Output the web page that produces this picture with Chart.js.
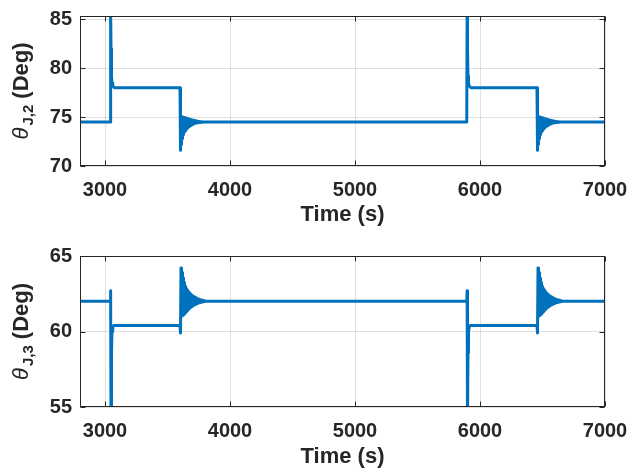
<!DOCTYPE html>
<html>
<head>
<meta charset="utf-8">
<script src="https://cdn.jsdelivr.net/npm/chart.js@4.4.1/dist/chart.umd.min.js"></script>
<style>
  html, body { margin: 0; padding: 0; background: #fff; overflow: hidden; }
  .panel { position: absolute; left: 0; width: 630px; height: 237px; }
</style>
</head>
<body>
<div class="panel" style="top:0"><canvas id="chartJ2"></canvas></div>
<div class="panel" style="top:237px"><canvas id="chartJ3"></canvas></div>
<script>
// ==================== DATA ====================

const timeStart = 2800;
const timeEnd = 7000;
const xTicks = [3000, 4000, 5000, 6000, 7000];
const ticksJ2 = [70, 75, 80, 85];
const ticksJ3 = [55, 60, 65];

// instants of the step change and of the return step (s)
const stepOn = [3042, 5894];
const stepOff = [3600, 6456];

// response right after each step change, times counted from stepOn
const onOffsets = [0, 3, 6, 10, 14, 20, 28, 36];
const onJ2 = [74.5, 86, 82, 79.2, 78.5, 78.2, 78.06, 78];
const onJ3 = [62, 62.7, 54, 58.6, 60.0, 60.3, 60.4, 60.4];

// ringing after each return step, times counted from stepOff
const ringOffsets = [0, 4, 8, 12, 16, 20, 24, 28, 32, 36, 40, 44, 48, 52, 56, 60, 64, 68, 72, 76,
  80, 84, 88, 92, 96, 100, 104, 108, 112, 116, 120, 124, 128, 132, 136, 140, 144, 148, 152, 156,
  160, 164, 168, 172, 176, 180, 184, 188, 192, 196, 200];
const ringJ2 = [78, 71.6, 75.1, 72.2, 75.05, 72.8, 75.0, 73.2, 74.97, 73.45, 74.93, 73.6, 74.9, 73.75,
  74.87, 73.87, 74.84, 73.97, 74.8, 74.05, 74.77, 74.12, 74.74, 74.18, 74.71, 74.24, 74.68, 74.29,
  74.65, 74.33, 74.63, 74.37, 74.6, 74.4, 74.58, 74.42, 74.56, 74.44, 74.54, 74.46, 74.53, 74.47,
  74.52, 74.48, 74.51, 74.49, 74.5, 74.5, 74.5, 74.5, 74.5];
const ringJ3 = [60.4, 59.9, 64.2, 61.0, 63.9, 61.05, 63.55, 61.1, 63.25, 61.15, 63.0, 61.22, 62.85,
  61.3, 62.75, 61.38, 62.65, 61.45, 62.57, 61.52, 62.5, 61.58, 62.44, 61.63, 62.39, 61.68, 62.34,
  61.72, 62.3, 61.76, 62.26, 61.79, 62.22, 61.82, 62.19, 61.85, 62.16, 61.88, 62.13, 61.9, 62.11,
  61.92, 62.09, 61.94, 62.07, 61.96, 62.05, 61.97, 62.03, 61.99, 62.0];

// ==================== HELPERS ====================

const TEXT_COLOR = '#262626';
const LINE_COLOR = '#0072BD';
const FONT = '"Liberation Sans", Arial, sans-serif';

// joins the two switching cycles into one x/y series
function buildSeries(onVals, ringVals) {
  const pts = [{ x: timeStart, y: onVals[0] }];
  stepOn.forEach((t0, i) => {
    onOffsets.forEach((dt, k) => pts.push({ x: t0 + dt, y: onVals[k] }));
    ringOffsets.forEach((dt, k) => pts.push({ x: stepOff[i] + dt, y: ringVals[k] }));
  });
  pts.push({ x: timeEnd, y: ringVals[ringVals.length - 1] });
  return pts;
}

// box around the plot area with inward tick marks
const framePlugin = {
  id: 'frame',
  afterDraw(chart) {
    const { ctx, chartArea: a, scales } = chart;
    const L = Math.round(a.left) + 0.5, R = Math.round(a.right) - 0.5;
    const T = Math.round(a.top) + 0.5, B = Math.round(a.bottom) - 0.5;
    ctx.save();
    ctx.strokeStyle = TEXT_COLOR;
    ctx.lineWidth = 1;
    ctx.strokeRect(L, T, R - L, B - T);
    ctx.beginPath();
    scales.x.ticks.forEach(t => {
      const px = Math.round(scales.x.getPixelForValue(t.value)) + 0.5;
      ctx.moveTo(px, B); ctx.lineTo(px, B - 5);
      ctx.moveTo(px, T); ctx.lineTo(px, T + 5);
    });
    scales.y.ticks.forEach(t => {
      const py = Math.round(scales.y.getPixelForValue(t.value)) + 0.5;
      ctx.moveTo(L, py); ctx.lineTo(L + 5, py);
      ctx.moveTo(R, py); ctx.lineTo(R - 5, py);
    });
    ctx.stroke();
    ctx.restore();
  }
};

// rotated y label: theta with a subscript, then the unit
const yTitlePlugin = {
  id: 'yTitle',
  afterDraw(chart, args, opts) {
    const { ctx, chartArea: a } = chart;
    const parts = [
      { text: '\u03B8', font: 'italic 22px ' + FONT, dy: 0, gap: 2 },
      { text: opts.sub, font: 'bold 15px ' + FONT, dy: 5, gap: 0 },
      { text: ' (Deg)', font: 'bold 22px ' + FONT, dy: 0, gap: 0 }
    ];
    ctx.save();
    let total = 0;
    parts.forEach(p => {
      ctx.font = p.font;
      p.w = ctx.measureText(p.text).width + p.gap;
      total += p.w;
    });
    ctx.translate(opts.baseline, (a.top + a.bottom) / 2);
    ctx.rotate(-Math.PI / 2);
    ctx.fillStyle = TEXT_COLOR;
    ctx.textBaseline = 'alphabetic';
    let x = -total / 2;
    parts.forEach(p => {
      ctx.font = p.font;
      ctx.fillText(p.text, x, p.dy);
      x += p.w;
    });
    ctx.restore();
  }
};

function makeChart(id, data, yTicks, yMin, yMax, sub, padTop, xHeight, titlePad) {
  return new Chart(document.getElementById(id), {
    type: 'line',
    data: {
      datasets: [{
        data: data,
        borderColor: LINE_COLOR,
        borderWidth: 3,
        borderJoinStyle: 'round',
        pointRadius: 0,
        tension: 0,
        fill: false
      }]
    },
    options: {
      responsive: true,
      maintainAspectRatio: false,
      animation: false,
      layout: { padding: { top: padTop, right: 25, left: 0, bottom: 0 } },
      plugins: {
        legend: { display: false },
        tooltip: { enabled: false },
        yTitle: { sub: sub, baseline: 28 }
      },
      scales: {
        x: {
          type: 'linear',
          min: timeStart,
          max: timeEnd,
          afterBuildTicks: s => { s.ticks = xTicks.map(v => ({ value: v })); },
          afterFit: s => {
            s.height = xHeight;
            s.paddingLeft = 0;
            s.paddingRight = 0;
          },
          grid: { color: 'rgba(0,0,0,0.12)', drawTicks: false },
          border: { display: false },
          ticks: {
            color: TEXT_COLOR,
            font: { family: FONT, size: 20, weight: 'bold' },
            padding: 12,
            maxRotation: 0,
            autoSkip: false,
            callback: v => String(v)
          },
          title: {
            display: true,
            text: 'Time (s)',
            color: TEXT_COLOR,
            font: { family: FONT, size: 22, weight: 'bold' },
            padding: { top: 0, bottom: titlePad }
          }
        },
        y: {
          min: yMin,
          max: yMax,
          afterBuildTicks: s => { s.ticks = yTicks.map(v => ({ value: v })); },
          afterFit: s => {
            s.width = 80;
            s.paddingTop = 0;
            s.paddingBottom = 0;
          },
          grid: { color: 'rgba(0,0,0,0.12)', drawTicks: false },
          border: { display: false },
          ticks: {
            color: TEXT_COLOR,
            font: { family: FONT, size: 20, weight: 'bold' },
            padding: 8,
            callback: v => String(v)
          }
        }
      }
    },
    plugins: [framePlugin, yTitlePlugin]
  });
}

makeChart('chartJ2', buildSeries(onJ2, ringJ2), ticksJ2, 70, 85.35, 'J,2', 16, 71, 9);
makeChart('chartJ3', buildSeries(onJ3, ringJ3), ticksJ3, 55, 65, 'J,3', 19, 67, 4);
</script>
</body>
</html>
